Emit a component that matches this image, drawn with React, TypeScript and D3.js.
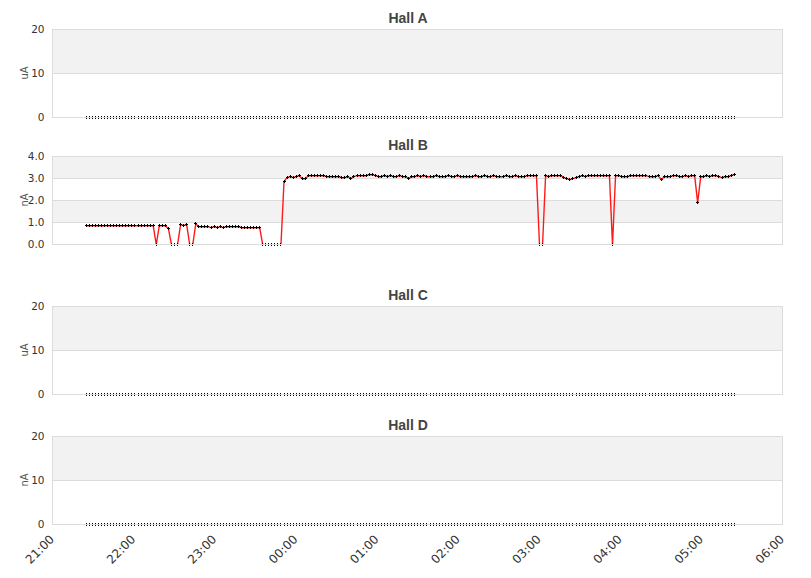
import React from 'react';
import * as d3 from 'd3';

// one reading every 135 s, first one at 21:25
const firstReading = new Date(2021, 0, 14, 21, 25, 0);
const stepSeconds = 135;
const axisStart = new Date(2021, 0, 14, 21, 0, 0);
const axisEnd = new Date(2021, 0, 15, 6, 0, 0);

const hallNames = ['Hall A', 'Hall B', 'Hall C', 'Hall D'];
const hallUnits = ['uA', 'nA', 'uA', 'nA'];
const hallMax = [20, 4, 20, 20];
const hallTicks = [[0, 10, 20], [0, 1, 2, 3, 4], [0, 10, 20], [0, 10, 20]];
const hallTickFormat = ['d', '.1f', 'd', 'd'];

const hallBValues = [
  0.86, 0.86, 0.86, 0.86, 0.86, 0.86, 0.86, 0.86, 0.86, 0.86, 0.86, 0.86, 0.86, 0.86, 0.86, 0.86, 0.86, 0.86, 0.86, 0.86, 0.86, 0.86, 0.86,
  0, 0.86, 0.86, 0.86, 0.73, 0, 0, 0, 0.91, 0.87, 0.91, 0, 0, 0.95,
  0.82, 0.80, 0.80, 0.80, 0.79, 0.80, 0.78, 0.80, 0.79, 0.80, 0.80, 0.80, 0.80, 0.80,
  0.77, 0.77, 0.77, 0.77, 0.77, 0.77, 0.77,
  0, 0, 0, 0, 0, 0, 0,
  2.86,
  3.06, 3.08, 3.06, 3.10, 3.12, 2.99, 2.99, 3.12, 3.14, 3.14, 3.15, 3.14, 3.14, 3.10, 3.09, 3.08, 3.09, 3.08,
  3.05, 3.04, 3.07, 3.00, 3.10, 3.12, 3.12, 3.13, 3.12, 3.19, 3.17, 3.13, 3.10, 3.08, 3.12, 3.09, 3.12, 3.11, 3.10, 3.12, 3.08, 3.10, 3.02,
  3.08, 3.11, 3.12, 3.09, 3.12, 3.10, 3.08, 3.11, 3.13, 3.10,
  3.07, 3.10, 3.12, 3.09, 3.11, 3.12, 3.08, 3.10, 3.11, 3.09,
  3.08, 3.12, 3.10, 3.11, 3.13, 3.09, 3.10, 3.12, 3.10, 3.08,
  3.11, 3.12, 3.09, 3.10, 3.13, 3.10, 3.08, 3.11, 3.12, 3.12,
  3.13, 3.14,
  0, 0,
  3.12, 3.10, 3.13, 3.13, 3.13, 3.12, 3.04, 3.02, 2.96, 3.02,
  3.05, 3.10, 3.12, 3.11, 3.12, 3.12, 3.12, 3.12, 3.12, 3.12, 3.12, 3.12,
  0,
  3.12, 3.12, 3.10, 3.07, 3.10, 3.13, 3.12, 3.12, 3.12, 3.12, 3.12, 3.11, 3.08, 3.10, 3.13,
  2.97,
  3.08, 3.10, 3.10, 3.12, 3.12, 3.11, 3.09, 3.13, 3.11, 3.12, 3.12,
  1.92,
  3.08, 3.11, 3.12, 3.10, 3.12, 3.12, 3.09, 3.06, 3.10, 3.08, 3.13, 3.18,
];

// halls A, C and D read zero all night
const idleValues = [
  0, 0, 0, 0, 0, 0, 0, 0, 0, 0, 0, 0, 0, 0, 0, 0, 0, 0, 0, 0,
  0, 0, 0, 0, 0, 0, 0, 0, 0, 0, 0, 0, 0, 0, 0, 0, 0, 0, 0, 0,
  0, 0, 0, 0, 0, 0, 0, 0, 0, 0, 0, 0, 0, 0, 0, 0, 0, 0, 0, 0,
  0, 0, 0, 0, 0, 0, 0, 0, 0, 0, 0, 0, 0, 0, 0, 0, 0, 0, 0, 0,
  0, 0, 0, 0, 0, 0, 0, 0, 0, 0, 0, 0, 0, 0, 0, 0, 0, 0, 0, 0,
  0, 0, 0, 0, 0, 0, 0, 0, 0, 0, 0, 0, 0, 0, 0, 0, 0, 0, 0, 0,
  0, 0, 0, 0, 0, 0, 0, 0, 0, 0, 0, 0, 0, 0, 0, 0, 0, 0, 0, 0,
  0, 0, 0, 0, 0, 0, 0, 0, 0, 0, 0, 0, 0, 0, 0, 0, 0, 0, 0, 0,
  0, 0, 0, 0, 0, 0, 0, 0, 0, 0, 0, 0, 0, 0, 0, 0, 0, 0, 0, 0,
  0, 0, 0, 0, 0, 0, 0, 0, 0, 0, 0, 0, 0, 0, 0, 0, 0, 0, 0, 0,
  0, 0, 0, 0, 0, 0, 0, 0, 0, 0, 0, 0, 0, 0,
];

const hallValues = [idleValues, hallBValues, idleValues, idleValues];

const W = 811;
const H = 578;
const plotLeft = 52;
const plotRight = 782;
const panelTops = [29, 156, 306, 436];
const panelHeight = 88;
const gridColor = '#dcdcdc';
const bandColor = '#f2f2f2';

const x = d3.scaleTime().domain([axisStart, axisEnd]).range([plotLeft, plotRight]);

const Panel = ({ idx }: { idx: number }) => {
  const top = panelTops[idx];
  const bottom = top + panelHeight;
  const y = d3.scaleLinear().domain([0, hallMax[idx]]).range([bottom, top]);
  const ticks = hallTicks[idx];
  const fmt = d3.format(hallTickFormat[idx]);
  const values = hallValues[idx];
  const points = values.map((v, i) => ({
    t: d3.timeSecond.offset(firstReading, i * stepSeconds),
    v,
  }));

  const line = d3.line<{ t: Date; v: number }>()
    .x(d => x(d.t) + 0.5)
    .y(d => Math.round(y(d.v)) + 0.7);

  const desc = ticks.slice().sort((a, b) => b - a);
  const bands = desc.slice(0, -1).map((hi, j) => ({ hi, lo: desc[j + 1], grey: j % 2 === 0 }));
  const clipId = `plot-clip-${idx}`;

  return (
    <g>
      <defs>
        <clipPath id={clipId}>
          <rect x={plotLeft} y={top - 6} width={plotRight - plotLeft} height={bottom - top + 6} />
        </clipPath>
      </defs>
      <text x={408} y={top - 6} textAnchor="middle" fontFamily="'Liberation Sans', Arial, sans-serif"
        fontWeight="bold" fontSize={14} fill="#444">{hallNames[idx]}</text>
      {bands.map((b, j) => (
        <rect key={j} x={plotLeft} y={Math.round(y(b.hi))} width={plotRight - plotLeft}
          height={Math.round(y(b.lo)) - Math.round(y(b.hi))} fill={b.grey ? bandColor : '#fff'} />
      ))}
      {ticks.map(t => (
        <g key={t}>
          <line x1={plotLeft} x2={plotRight + 1} y1={Math.round(y(t)) + 0.5} y2={Math.round(y(t)) + 0.5}
            stroke={gridColor} shapeRendering="crispEdges" />
          <text x={44.5} y={Math.round(y(t)) + 4} textAnchor="end" fontFamily="'DejaVu Sans', sans-serif"
            fontSize={10.5} fill="#333">{fmt(t)}</text>
        </g>
      ))}
      <line x1={plotLeft + 0.5} x2={plotLeft + 0.5} y1={top} y2={bottom + 1} stroke={gridColor} shapeRendering="crispEdges" />
      <line x1={plotRight + 0.5} x2={plotRight + 0.5} y1={top} y2={bottom + 1} stroke={gridColor} shapeRendering="crispEdges" />
      <text transform={`translate(27.5, ${(top + bottom) / 2}) rotate(-90)`} textAnchor="middle"
        fontFamily="'DejaVu Sans', sans-serif" fontSize={10} fill="#555">{hallUnits[idx]}</text>
      <path d={line(points) || ''} fill="none" stroke="#ff1a1a" strokeWidth={1.4} strokeLinejoin="round"
        clipPath={`url(#${clipId})`} />
      {points.map((p, i) => {
        const cx = Math.round(x(p.t));
        const cy = Math.round(y(p.v));
        return (
          <path key={i} d={`M${cx - 1},${cy + 0.5}h3M${cx + 0.5},${cy - 1}v3`} stroke="#000"
            strokeWidth={1} shapeRendering="crispEdges" />
        );
      })}
      <line x1={plotLeft} x2={plotRight + 1} y1={bottom + 0.5} y2={bottom + 0.5} stroke={gridColor} shapeRendering="crispEdges" />
    </g>
  );
};

const App = () => {
  const hours = d3.timeHour.range(axisStart, d3.timeHour.offset(axisEnd, 1));
  const fmtHour = d3.timeFormat('%H:%M');
  const bottom = panelTops[3] + panelHeight;
  return (
    <svg width={W} height={H} style={{ position: 'absolute', left: 0, top: 0, background: '#fff' }}>
      <rect width={W} height={H} fill="#fff" />
      {hallNames.map((_, i) => <Panel key={i} idx={i} />)}
      {hours.map(h => (
        <text key={h.getTime()} transform={`translate(${x(h) + 3}, ${bottom + 16}) rotate(-45)`} textAnchor="end"
          fontFamily="'DejaVu Sans', sans-serif" fontSize={12} fill="#333">{fmtHour(h)}</text>
      ))}
    </svg>
  );
};

export default App;
